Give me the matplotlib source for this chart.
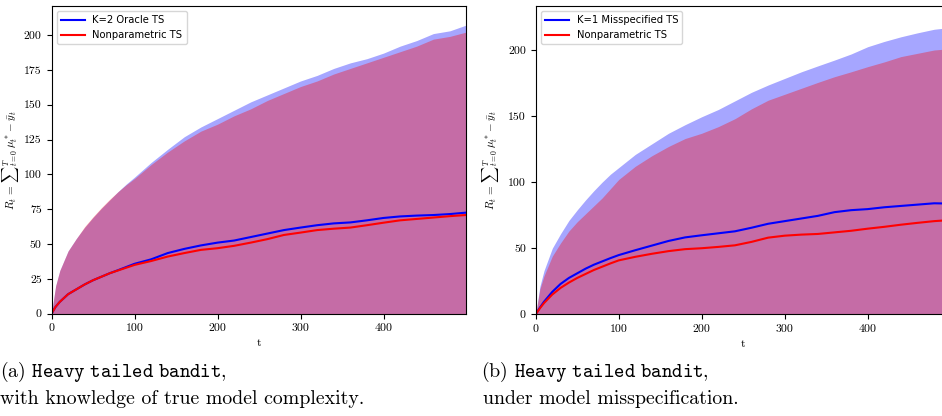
import matplotlib
matplotlib.use("Agg")
import matplotlib.pyplot as plt
import numpy as np

plt.rcParams['mathtext.fontset'] = 'cm'
plt.rcParams['axes.unicode_minus'] = False

t = [0, 5, 10, 20, 30, 40, 50, 60, 70, 80, 90, 100, 120, 140, 160, 180, 200,
     220, 240, 260, 280, 300, 320, 340, 360, 380, 400, 420, 440, 460, 480, 499]

# ---- panel (a): K=2 Oracle TS vs Nonparametric TS ----
a_oracle_mean = [0, 5, 8.5, 14, 17.5, 21, 24, 26.5, 29, 31.2, 33.5, 35.8, 39, 43.5,
                 46.5, 49, 51, 52.5, 55, 57.5, 60, 61.8, 63.5, 64.8, 65.5, 67, 68.7,
                 69.8, 70.4, 70.8, 71.5, 72.5]
a_oracle_upper = [0, 20, 31, 45, 54, 62, 69, 75.5, 81.5, 87.5, 93, 98, 108.5, 118, 127,
                  134, 140, 146, 152, 157, 162, 167, 171, 176, 180, 183, 187, 192, 196,
                  201, 203, 207]
a_np_mean = [0, 5, 8.5, 14, 17.5, 21, 24, 26.5, 29, 31, 33, 35, 37.8, 41, 43.5, 45.8,
             47, 48.7, 51, 53.5, 56.5, 58.2, 60, 61, 61.8, 63.5, 65.3, 67, 68, 69,
             70, 70.8]
a_np_upper = [0, 20, 31, 45, 54, 62.5, 69.5, 76, 82, 87.5, 92.5, 97, 107, 116, 124,
              131, 136, 142, 147, 153, 158, 163, 167, 172, 176, 180, 184, 188, 192,
              197, 199, 202]

# ---- panel (b): K=1 Misspecified TS vs Nonparametric TS ----
b_mis_mean = [0, 5, 9.5, 17, 23, 27.5, 31, 34.5, 37.5, 40, 42.5, 44.8, 48.5, 52, 55.5,
              58.2, 59.8, 61.3, 62.8, 65.5, 68.5, 70.5, 72.5, 74.5, 77.3, 78.8, 79.6,
              81, 82, 83, 84, 83.8]
b_mis_upper = [0, 21, 33, 50, 61, 71, 79, 86.5, 93.5, 100, 106, 111, 121, 129, 137,
               143.5, 149.5, 155, 161.5, 168, 173.5, 178.5, 183.5, 188, 192.4, 197,
               202.5, 206.5, 210, 213, 215.7, 217]
b_np_mean = [0, 4.5, 8.5, 15, 20, 24, 27.5, 30.5, 33.5, 36, 38.5, 40.8, 43.5, 45.8,
             47.8, 49.3, 50, 51, 52.2, 54.8, 58, 59.5, 60.3, 60.8, 62, 63.2, 64.8,
             66.2, 67.8, 69.2, 70.5, 71.3]
b_np_upper = [0, 19, 29, 44, 54, 63, 70, 76, 82, 88, 95, 102, 112, 120, 127, 133, 137,
              142, 148, 155.5, 162, 166.5, 171, 175.5, 179.8, 183.5, 187.4, 191, 195,
              197.5, 200, 201]

labels_a = ["K=2 Oracle TS", "Nonparametric TS"]
labels_b = ["K=1 Misspecified TS", "Nonparametric TS"]
caption_a = [r"(a) $\mathtt{Heavy\ tailed\ bandit}$,",
             "with knowledge of true model complexity."]
caption_b = [r"(b) $\mathtt{Heavy\ tailed\ bandit}$,",
             "under model misspecification."]
ylabel = r"$R_t\, =\, {\sum}_{t=0}^{T}\, \mu_t^* - \bar{y}_t$"

fig = plt.figure(figsize=(9.42, 4.16), dpi=100)
W, H = 942.0, 416.0
ax_a = fig.add_axes([51.5 / W, (H - 313.7) / H, 414.2 / W, (313.7 - 6) / H])
ax_b = fig.add_axes([535.7 / W, (H - 314.3) / H, 414.2 / W, (314.3 - 6) / H])


def panel(ax, mean1, up1, mean2, up2, labels, ytop, yticks, ylab_px):
    tt = np.array(t, dtype=float)
    m1, u1 = np.array(mean1), np.array(up1)
    m2, u2 = np.array(mean2), np.array(up2)
    ax.fill_between(tt, 2 * m1 - u1, u1, color='blue', alpha=0.35, linewidth=0)
    ax.fill_between(tt, 2 * m2 - u2, u2, color='red', alpha=0.35, linewidth=0)
    ax.plot(tt, m1, color='blue', lw=1.5, label=labels[0])
    ax.plot(tt, m2, color='red', lw=1.5, label=labels[1])
    ax.set_xlim(0, 499)
    ax.set_ylim(0, ytop)
    ax.set_xticks([0, 100, 200, 300, 400])
    ax.set_yticks(yticks)
    for lab in ax.get_xticklabels() + ax.get_yticklabels():
        lab.set_fontfamily('cmr10')
        lab.set_fontsize(8.5)
    ax.set_xlabel("t", fontfamily='cmr10', fontsize=8.5)
    ax.set_ylabel(ylabel, fontsize=8)
    ax.yaxis.set_label_coords(ylab_px / 414.2, 0.5)
    ax.legend(loc='upper left', fontsize=7.2, handlelength=2.4, framealpha=0.8)


panel(ax_a, a_oracle_mean, a_oracle_upper, a_np_mean, a_np_upper, labels_a,
      220.8, [0, 25, 50, 75, 100, 125, 150, 175, 200], -30.5)
panel(ax_b, b_mis_mean, b_mis_upper, b_np_mean, b_np_upper, labels_b,
      233.3, [0, 50, 100, 150, 200], -35.0)

fig.text(0 / W, 1 - 372 / H, caption_a[0], fontfamily='cmr10', fontsize=14.3, va='center')
fig.text(0 / W, 1 - 399 / H, caption_a[1], fontfamily='cmr10', fontsize=14.3, va='center')
fig.text(481 / W, 1 - 372 / H, caption_b[0], fontfamily='cmr10', fontsize=14.3, va='center')
fig.text(483 / W, 1 - 399 / H, caption_b[1], fontfamily='cmr10', fontsize=14.3, va='center')

fig.savefig("out.png", dpi=100)
